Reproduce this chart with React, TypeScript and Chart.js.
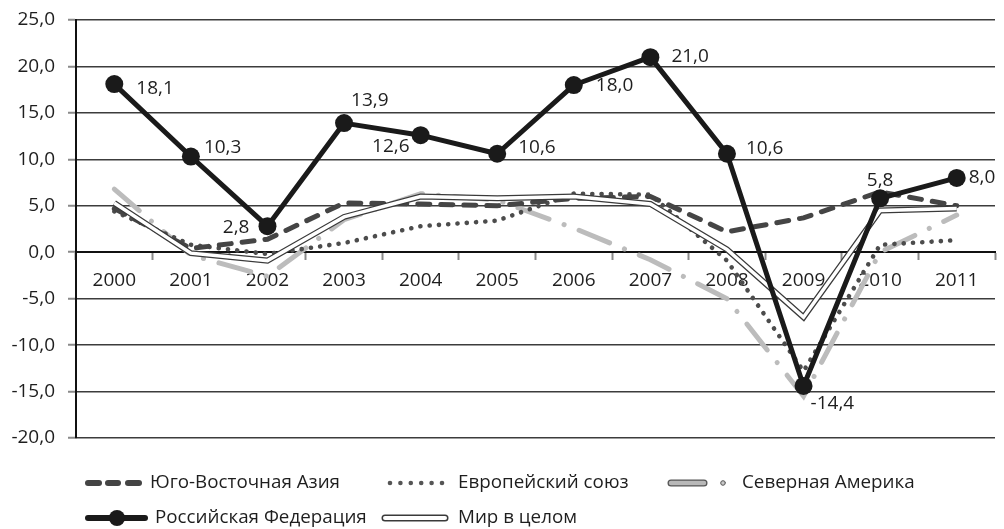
import React, { useEffect, useRef } from 'react';
import { Chart, registerables } from 'chart.js';

Chart.register(...registerables);

const categories = ['2000', '2001', '2002', '2003', '2004', '2005', '2006', '2007', '2008', '2009', '2010', '2011'];
const russia = [18.1, 10.3, 2.8, 13.9, 12.6, 10.6, 18.0, 21.0, 10.6, -14.4, 5.8, 8.0];
const seAsia = [4.7, 0.4, 1.4, 5.3, 5.2, 5.0, 5.8, 6.0, 2.2, 3.7, 6.5, 5.0];
const eu = [4.4, 0.8, -0.2, 1.0, 2.8, 3.4, 6.3, 6.2, -0.9, -12.8, 0.8, 1.3];
const northAmerica = [6.8, -0.3, -2.6, 3.5, 6.3, 5.6, 2.6, -0.8, -5.0, -15.5, 0.0, 4.0];
const world = [5.3, -0.1, -0.9, 3.8, 6.0, 5.8, 6.0, 5.2, 0.3, -7.0, 4.5, 4.7];

const seriesNames = {
  seAsia: 'Юго-Восточная Азия',
  eu: 'Европейский союз',
  na: 'Северная Америка',
  russia: 'Российская Федерация',
  world: 'Мир в целом',
};

const FONT = '"Open Sans", sans-serif';
const fmt = (v: number) => v.toFixed(1).replace('.', ',');

// label placement for Russia series: [dx, dy, align]
const labelPlacement: [number, number, CanvasTextAlign][] = [
  [22, 5, 'left'], [13, -9, 'left'], [-18, 1, 'right'], [7, -23, 'left'],
  [-11, 11, 'right'], [21, -6, 'left'], [22, 1, 'left'], [21, -1, 'left'],
  [19, -5, 'left'], [7, 18, 'left'], [0, -18, 'center'], [12, 0, 'left'],
];

const dataLabelPlugin = {
  id: 'ruLabels',
  afterDatasetsDraw(chart: any) {
    const meta = chart.getDatasetMeta(0);
    const ctx = chart.ctx;
    ctx.save();
    ctx.font = `19px ${FONT}`;
    ctx.fillStyle = '#1e1e1e';
    ctx.textBaseline = 'middle';
    meta.data.forEach((pt: any, i: number) => {
      const [dx, dy, align] = labelPlacement[i];
      ctx.textAlign = align;
      ctx.fillText(fmt(russia[i]), pt.x + dx, pt.y + dy);
    });
    ctx.restore();
  },
};

const legendPlugin = {
  id: 'customLegend',
  afterDraw(chart: any) {
    const ctx = chart.ctx;
    ctx.save();
    const y1 = 483;
    const y2 = 518;
    // SE Asia: dashes
    ctx.lineCap = 'round';
    ctx.strokeStyle = '#444';
    ctx.lineWidth = 6;
    [[88, 99], [108, 118], [128, 139]].forEach(([a, b]) => {
      ctx.beginPath(); ctx.moveTo(a, y1); ctx.lineTo(b, y1); ctx.stroke();
    });
    // EU: dots
    ctx.fillStyle = '#555';
    for (let i = 0; i < 6; i++) {
      ctx.beginPath(); ctx.arc(390 + i * 10.4, y1, 2.3, 0, Math.PI * 2); ctx.fill();
    }
    // North America: gray bar with outline + small circle
    ctx.strokeStyle = '#555';
    ctx.lineWidth = 7;
    ctx.beginPath(); ctx.moveTo(671, y1); ctx.lineTo(704, y1); ctx.stroke();
    ctx.strokeStyle = '#b8b8b8';
    ctx.lineWidth = 4.5;
    ctx.beginPath(); ctx.moveTo(671, y1); ctx.lineTo(704, y1); ctx.stroke();
    ctx.beginPath(); ctx.arc(723, y1, 2.3, 0, Math.PI * 2);
    ctx.fillStyle = '#c8c8c8'; ctx.fill();
    ctx.lineWidth = 1; ctx.strokeStyle = '#555'; ctx.stroke();
    // Russia
    ctx.strokeStyle = '#1a1a1a';
    ctx.lineWidth = 6;
    ctx.beginPath(); ctx.moveTo(88, y2); ctx.lineTo(145, y2); ctx.stroke();
    ctx.fillStyle = '#1a1a1a';
    ctx.beginPath(); ctx.arc(117, y2, 8, 0, Math.PI * 2); ctx.fill();
    // World: white bar with dark outline
    ctx.strokeStyle = '#3a3a3a';
    ctx.lineWidth = 7;
    ctx.beginPath(); ctx.moveTo(385, y2); ctx.lineTo(445, y2); ctx.stroke();
    ctx.strokeStyle = '#ffffff';
    ctx.lineWidth = 4;
    ctx.beginPath(); ctx.moveTo(385, y2); ctx.lineTo(445, y2); ctx.stroke();
    // texts
    ctx.font = `18.8px ${FONT}`;
    ctx.fillStyle = '#1e1e1e';
    ctx.textBaseline = 'middle';
    ctx.textAlign = 'left';
    ctx.fillText(seriesNames.seAsia, 150, y1);
    ctx.fillText(seriesNames.eu, 458, y1);
    ctx.fillText(seriesNames.na, 742, y1);
    ctx.fillText(seriesNames.russia, 155, y2);
    ctx.fillText(seriesNames.world, 458, y2);
    ctx.restore();
  },
};

export default function App() {
  const ref = useRef<HTMLCanvasElement | null>(null);

  useEffect(() => {
    document.body.style.margin = '0';
    const canvas = ref.current;
    if (!canvas) return;
    const chart = new Chart(canvas, {
      type: 'line',
      data: {
        labels: categories,
        datasets: [
          {
            label: seriesNames.russia, data: russia, borderColor: '#1a1a1a', backgroundColor: '#1a1a1a',
            borderWidth: 5, pointRadius: 9, pointBackgroundColor: '#1a1a1a', pointBorderWidth: 0,
            borderJoinStyle: 'round', order: 0,
          },
          {
            label: seriesNames.world, data: world, borderColor: '#ffffff', borderWidth: 3.5,
            pointRadius: 0, borderJoinStyle: 'miter', order: 1,
          },
          {
            label: seriesNames.world + ' (контур)', data: world, borderColor: '#3a3a3a', borderWidth: 6,
            pointRadius: 0, borderJoinStyle: 'miter', order: 2,
          },
          {
            label: seriesNames.seAsia, data: seAsia, borderColor: '#454545', borderWidth: 5,
            borderDash: [12, 11], borderCapStyle: 'round', pointRadius: 0, order: 3,
          },
          {
            label: seriesNames.eu, data: eu, borderColor: '#4c4c4c', borderWidth: 4.6,
            borderDash: [0.1, 9.2], borderCapStyle: 'round', pointRadius: 0, order: 4,
          },
          {
            label: seriesNames.na, data: northAmerica, borderColor: '#bcbcbc', borderWidth: 5,
            borderDash: [33, 16, 0.1, 16], borderCapStyle: 'round', pointRadius: 0, order: 5,
          },
        ],
      },
      options: {
        responsive: false,
        animation: false,
        devicePixelRatio: 1,
        layout: { padding: { top: 20, right: 5, bottom: 91, left: 0 } },
        plugins: {
          legend: { display: false },
          tooltip: { enabled: false },
          title: { display: false },
        },
        scales: {
          x: {
            type: 'category',
            offset: true,
            position: { y: 0 },
            grid: {
              display: true, drawOnChartArea: false, drawTicks: true, tickLength: 7,
              tickColor: '#8a8a8a', tickWidth: 2, offset: true,
            },
            border: { display: true, color: '#111', width: 2 },
            ticks: {
              font: { family: FONT, size: 19 }, color: '#1e1e1e', padding: 10,
              maxRotation: 0, autoSkip: false,
            },
          },
          y: {
            min: -20,
            max: 25,
            ticks: {
              stepSize: 5,
              callback: (v: any) => fmt(Number(v)),
              font: { family: FONT, size: 19 }, color: '#1e1e1e', padding: 13,
            },
            grid: {
              color: '#3c3c3c', lineWidth: 1.5, tickLength: 8, tickColor: '#8a8a8a', tickWidth: 2,
            },
            border: { display: true, color: '#111', width: 2 },
            afterFit: (s: any) => { s.width = 76; s.paddingTop = 12; s.paddingBottom = 12; },
          },
        },
      },
      plugins: [dataLabelPlugin, legendPlugin],
    });
    return () => chart.destroy();
  }, []);

  return (
    <div style={{ width: 1004, height: 529, background: '#fff' }}>
      <canvas ref={ref} width={1004} height={529} />
    </div>
  );
}
